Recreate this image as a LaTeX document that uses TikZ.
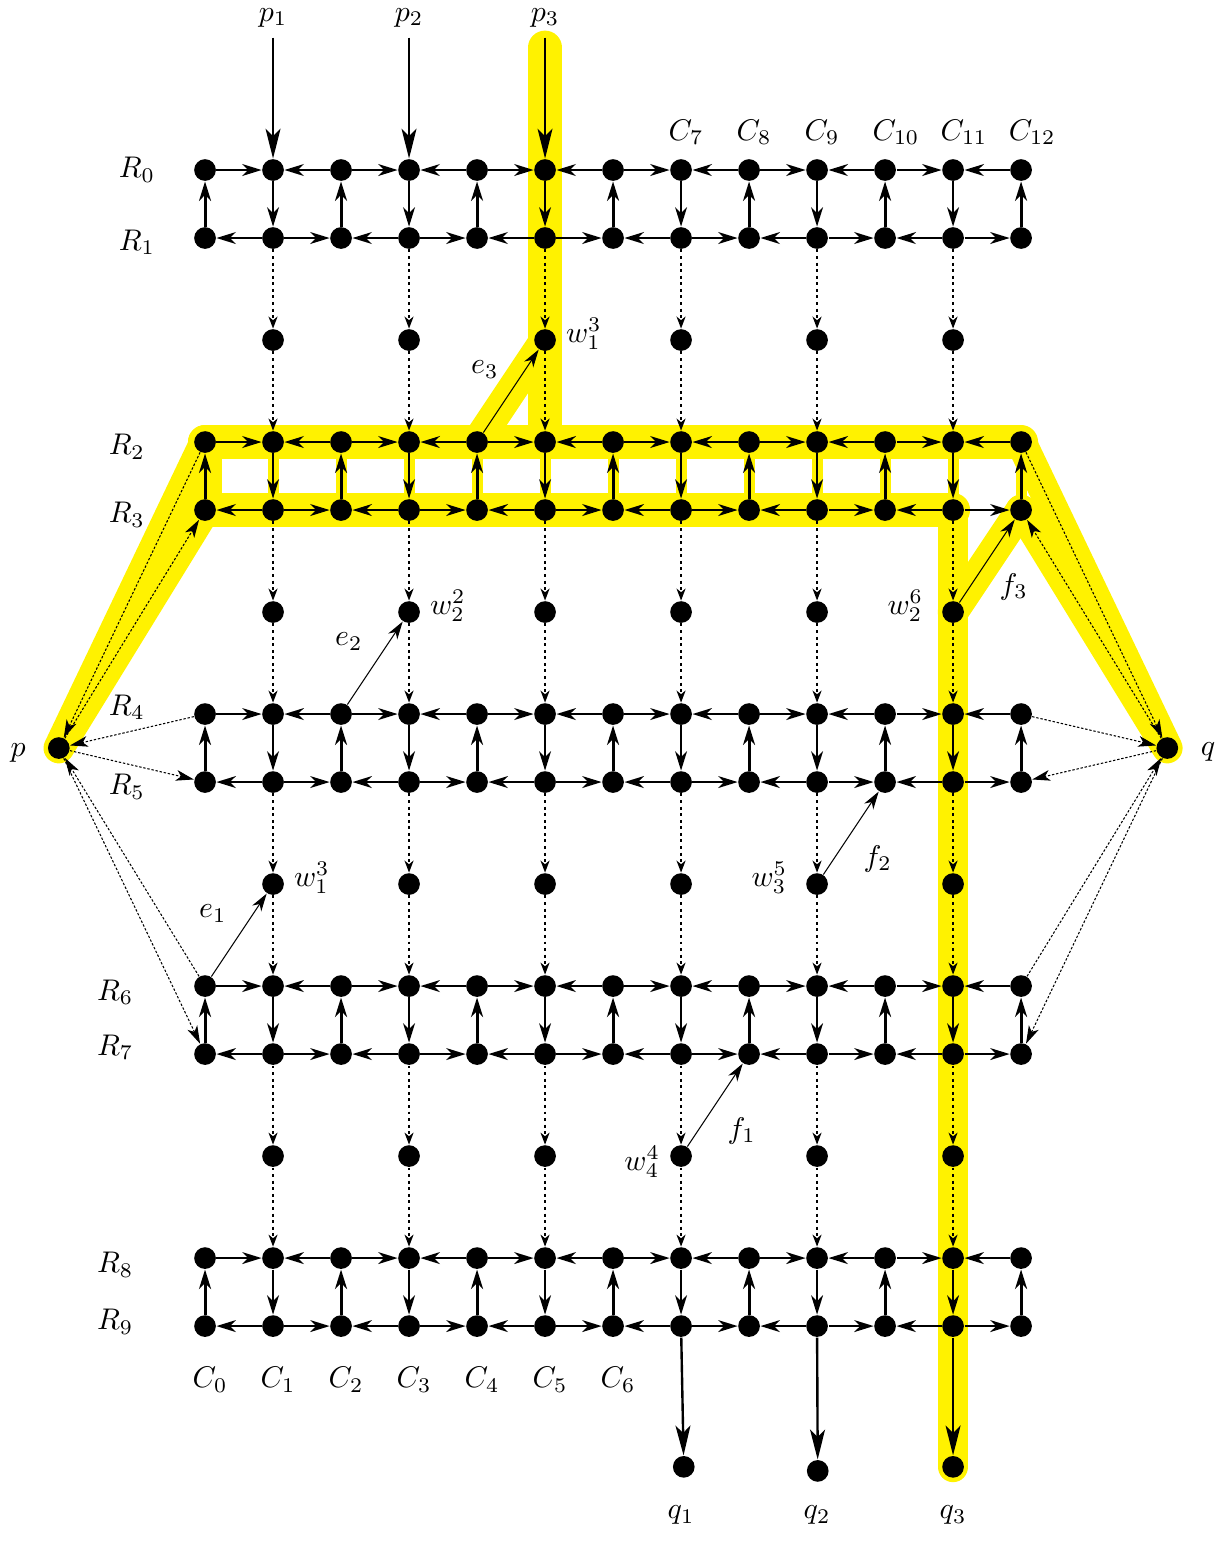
\documentclass[tikz,border=0pt]{standalone}
\usetikzlibrary{arrows.meta, positioning}
\pgfdeclarelayer{background}
\pgfsetlayers{background,main}

\begin{document}
\begin{tikzpicture}[
            x=0.8cm, y=0.8cm,
            vertex/.style={ circle, fill=black, inner sep=0pt, minimum size=0.255cm },
            edge/.style={ -{Stealth[length=6.5pt, width=4pt, inset=2pt]}, line width=0.55pt },
            upedge/.style={ edge, line width=1pt },
            dotedge/.style={ -{Stealth[length=4pt, width=3pt, inset=1.2pt]}, line width=0.6pt, dash pattern=on 1pt off 1.2pt },
            sideedge/.style={ -{Stealth[length=6pt, width=3.6pt, inset=1.6pt]}, line width=0.35pt, dash pattern=on 0.8pt off 0.6pt },
            link/.style={ -{Stealth[length=6pt, width=3.6pt, inset=1.8pt]}, line width=0.35pt },
            bigarrow/.style={ -{Stealth[length=10pt, width=5pt, inset=2.5pt]}, line width=0.8pt },
            glow/.style={ yellow, line cap=round, line join=round, line width=0.4cm }
        ]
            \useasboundingbox (-3.015,-20.19) rectangle (15,2.5);

            % Grid nodes (row r, column c)
            \foreach \r in {0,...,9}
                \foreach \c in {0,...,12}
                    \node[vertex] (n-\r-\c) at (\c, {-2*\r+mod(\r,2)}) {};

            % Middle nodes between the gadgets
            \foreach \g in {0,...,3}
                \foreach \c in {1,3,...,11}
                    \node[vertex] (m-\g-\c) at (\c, {-4*\g-2.5}) {};

            % Terminals
            \node[vertex] (p) at (-2.15,-8.5) {};
            \node[vertex] (q) at (14.15,-8.5) {};
            \node (plabel) at (-2.75,-8.57) {$p$};
            \node (qlabel) at (14.75,-8.56) {$q$};
            \foreach \i/\c in {1/1, 2/3, 3/5}
                \node (p\i) at (\c,2.24) {$p_{\i}$};
            \node[vertex] (q1) at (7.04,-19.07) {};
            \node[vertex] (q2) at (9.01,-19.13) {};
            \node[vertex] (q3) at (11,-19.07) {};
            \foreach \i/\c in {1/7, 2/9, 3/11}
                \node (q\i label) at (\c,-19.78) {$q_{\i}$};

            % Row and column labels
            \foreach \r/\x/\y in {0/-1.0/0, 1/-1.0/-1.06, 2/-1.15/-4.07, 3/-1.15/-5.07, 4/-1.15/-7.9,
                                  5/-1.15/-9.07, 6/-1.32/-12.09, 7/-1.32/-12.9, 8/-1.32/-16.1, 9/-1.32/-16.94}
                \node (rowlbl-\r) at (\x,\y) {$R_{\r}$};
            \foreach \c in {0,...,6}
                \node[anchor=base west, inner sep=0pt] (collbl-\c) at ({\c-0.19},-17.91) {$C_{\c}$};
            \foreach \c in {7,...,12}
                \node[anchor=base west, inner sep=0pt] (collbl-\c) at ({\c-0.19},0.44) {$C_{\c}$};

            % w labels
            \node[right=2pt of m-0-5, yshift=2pt, inner sep=1pt] (w-a) {$w_1^3$};
            \node[right=2pt of m-1-3, yshift=2pt, inner sep=1pt] (w-b) {$w_2^2$};
            \node[left=5pt of m-1-11, yshift=2pt, inner sep=1pt] (w-c) {$w_2^6$};
            \node[right=2pt of m-2-1, yshift=2pt, inner sep=1pt] (w-d) {$w_1^3$};
            \node[left=5pt of m-2-9, yshift=2pt, inner sep=1pt] (w-e) {$w_3^5$};
            \node[left=2pt of m-3-7, yshift=-2pt, inner sep=1pt] (w-f) {$w_4^4$};

            % Gadget arrows
            \foreach \blk in {0,...,4} {
                \pgfmathtruncatemacro\rowa{2*\blk}
                \pgfmathtruncatemacro\rowb{2*\blk+1}
                \foreach \c in {0,2,...,12}
                    \draw[upedge] (n-\rowb-\c) -- (n-\rowa-\c);
                \foreach \c in {1,3,...,11} {
                    \pgfmathtruncatemacro\lft{\c-1}
                    \pgfmathtruncatemacro\rgt{\c+1}
                    \draw[edge] (n-\rowa-\c) -- (n-\rowb-\c);
                    \draw[edge] (n-\rowa-\lft) -- (n-\rowa-\c);
                    \draw[edge] (n-\rowa-\rgt) -- (n-\rowa-\c);
                    \draw[edge] (n-\rowb-\c) -- (n-\rowb-\lft);
                    \draw[edge] (n-\rowb-\c) -- (n-\rowb-\rgt);
                }
            }

            % Dotted arrows through the middle nodes
            \foreach \g in {0,...,3} {
                \pgfmathtruncatemacro\rowa{2*\g+1}
                \pgfmathtruncatemacro\rowb{2*\g+2}
                \foreach \c in {1,3,...,11} {
                    \draw[dotedge] (n-\rowa-\c) -- (m-\g-\c);
                    \draw[dotedge] (m-\g-\c) -- (n-\rowb-\c);
                }
            }

            % Arrows to and from p and q
            \foreach \ra/\rb in {2/3, 4/5, 6/7} {
                \draw[sideedge] (n-\ra-0) -- (p);
                \draw[sideedge] (p) -- (n-\rb-0);
                \draw[sideedge] (n-\ra-12) -- (q);
                \draw[sideedge] (q) -- (n-\rb-12);
            }

            % In and out arrows
            \draw[bigarrow] (p1) -- (n-0-1);
            \draw[bigarrow] (p2) -- (n-0-3);
            \draw[bigarrow] (p3) -- (n-0-5);
            \draw[bigarrow] (n-9-7) -- (q1);
            \draw[bigarrow] (n-9-9) -- (q2);
            \draw[bigarrow] (n-9-11) -- (q3);

            % Links e and f
            \draw[link] (n-2-4) -- node[above left=1pt] (e3) {$e_3$} (m-0-5);
            \draw[link] (n-4-2) -- node[above left=1pt] (e2) {$e_2$} (m-1-3);
            \draw[link] (n-6-0) -- node[above left=1pt] (e1) {$e_1$} (m-2-1);
            \draw[link] (m-3-7) -- node[below right=1pt] (f1) {$f_1$} (n-7-8);
            \draw[link] (m-2-9) -- node[below right=1pt] (f2) {$f_2$} (n-5-10);
            \draw[link] (m-1-11) -- node[below right=1pt] (f3) {$f_3$} (n-3-12);

            % Highlighted path
            \coordinate (glowtop) at (5,1.8);
            \begin{pgfonlayer}{background}
                \draw[glow] (glowtop) -- (n-2-5.center);
                \draw[glow] (n-2-0.center) -- (n-2-12.center);
                \draw[glow] (n-2-0.center) -- (n-3-0.center) -- (n-3-11.center);
                \draw[glow, line width=0.36cm] (n-3-11.center) -- (q3.center);
                \draw[glow, line width=0.36cm] (n-2-0.center) -- (p.center) -- (n-3-0.center);
                \draw[glow, line width=0.36cm] (n-2-12.center) -- (q.center) -- (n-3-12.center);
                \draw[glow, line width=0.36cm] (n-2-4.center) -- (m-0-5.center) -- (n-2-5.center);
                \draw[glow, line width=0.36cm] (m-1-11.center) -- (n-3-12.center);
                \foreach \c in {1,...,12}
                    \draw[glow, line width=0.13cm] (n-2-\c.center) -- (n-3-\c.center);
            \end{pgfonlayer}

        \end{tikzpicture}
\end{document}
